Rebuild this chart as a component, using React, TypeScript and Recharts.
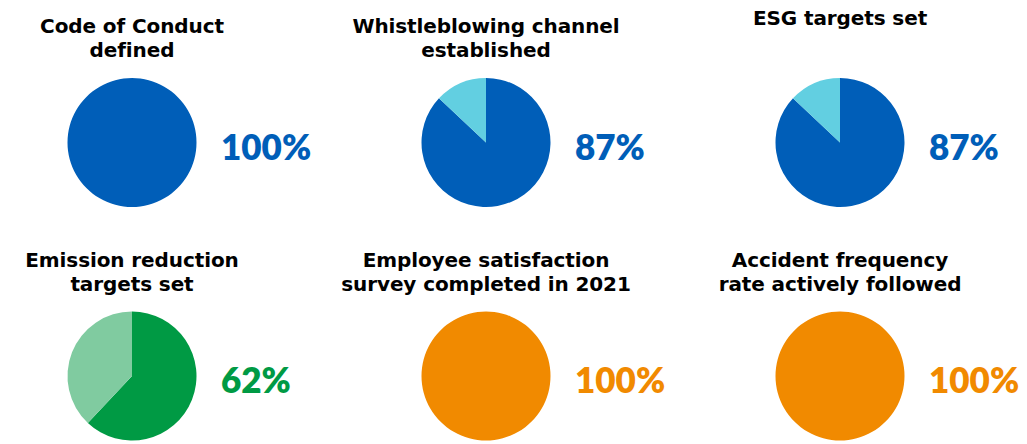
import { PieChart, Pie, Cell } from "recharts";

// titles (each line separately), values and colours of the six pies
const titles: string[][] = [
  ["Code of Conduct", "defined"],
  ["Whistleblowing channel", "established"],
  ["ESG targets set"],
  ["Emission reduction", "targets set"],
  ["Employee satisfaction", "survey completed in 2021"],
  ["Accident frequency", "rate actively followed"],
];
const values = [100, 87, 87, 62, 100, 100];
const mainColors = ["#005EB8", "#005EB8", "#005EB8", "#009A44", "#F18A00", "#F18A00"];
const restColors = ["#62CFE1", "#62CFE1", "#62CFE1", "#80CBA0", "#FAC98A", "#FAC98A"];

const colX = [132, 486, 840];
const rowPieY = [142.5, 376];
const rowTitleY = [33, 267];
const RADIUS = 64.5;
const TITLE_FONT = "'DejaVu Sans', sans-serif";
const PCT_FONT = "Lato, 'Noto Sans', sans-serif";

export default function App() {
  return (
    <div style={{ position: "absolute", left: 0, top: 0, width: 1027, height: 444, background: "#fff" }}>
      <PieChart width={1027} height={444} margin={{ top: 0, right: 0, bottom: 0, left: 0 }}>
        {values.map((v, i) => {
          const cx = colX[i % 3];
          const cy = rowPieY[Math.floor(i / 3)];
          const data = [
            { name: "Yes", value: v },
            { name: "No", value: 100 - v },
          ];
          return (
            <Pie
              key={"pie" + i}
              data={data}
              dataKey="value"
              cx={cx}
              cy={cy}
              outerRadius={RADIUS}
              innerRadius={0}
              startAngle={90}
              endAngle={-270}
              stroke="none"
              isAnimationActive={false}
            >
              <Cell fill={mainColors[i]} />
              <Cell fill={restColors[i]} />
            </Pie>
          );
        })}
        {titles.map((lines, i) => {
          const x = colX[i % 3];
          const row = Math.floor(i / 3);
          const y0 = lines.length === 1 ? rowTitleY[row] - 8 : rowTitleY[row];
          return (
            <text
              key={"t" + i}
              x={x}
              y={y0}
              textAnchor="middle"
              fontFamily={TITLE_FONT}
              fontWeight={700}
              fontSize={20}
              letterSpacing={-0.1}
              fill="#000"
            >
              {lines.map((l, j) => (
                <tspan key={j} x={x} y={y0 + j * 24}>
                  {l}
                </tspan>
              ))}
            </text>
          );
        })}
        {values.map((v, i) => (
          <text
            key={"p" + i}
            x={colX[i % 3] + 89}
            y={rowPieY[Math.floor(i / 3)] + 17}
            textAnchor="start"
            fontFamily={PCT_FONT}
            fontWeight={800}
            fontSize={35}
            fill={mainColors[i]}
          >
            {v}%
          </text>
        ))}
      </PieChart>
    </div>
  );
}
